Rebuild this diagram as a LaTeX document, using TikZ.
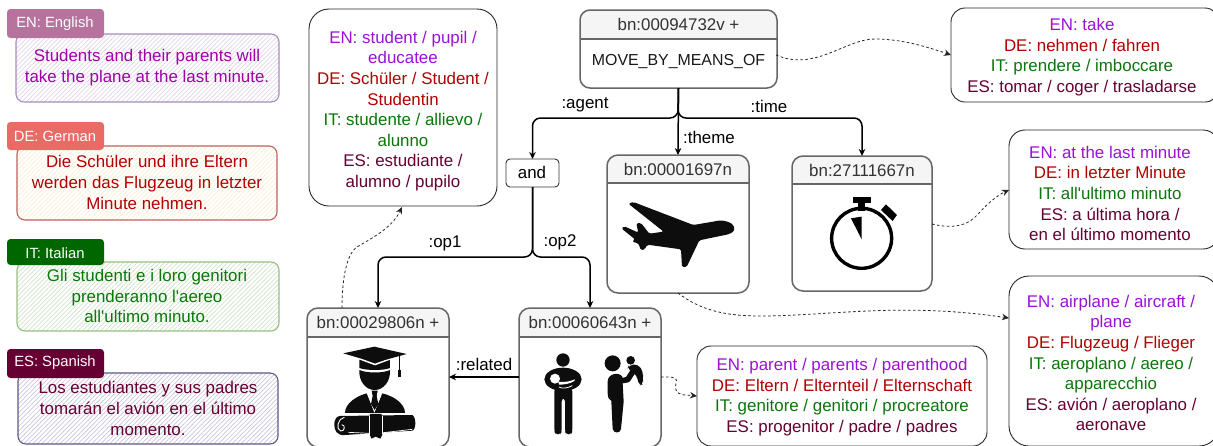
\documentclass[tikz,border=0pt]{standalone}
\usepackage{fontspec}
\setmainfont{Liberation Sans}[Ligatures=TeXOff]
\usetikzlibrary{arrows.meta,patterns.meta}
\definecolor{cen}{HTML}{9A12D6}
\definecolor{cenS}{HTML}{A000A8}
\definecolor{cde}{HTML}{B20000}
\definecolor{cit}{HTML}{0A770A}
\definecolor{ces}{HTML}{660033}
\definecolor{hdr}{HTML}{F5F5F5}
\definecolor{edge}{HTML}{666666}
\definecolor{lab}{HTML}{333333}
\definecolor{tagen}{HTML}{B5739D}
\definecolor{tagde}{HTML}{EA6B66}
\definecolor{tagit}{HTML}{006600}
\definecolor{tages}{HTML}{660033}
\definecolor{bden}{HTML}{A98BBB}
\definecolor{bdde}{HTML}{C4605C}
\definecolor{bdit}{HTML}{97C080}
\definecolor{bdes}{HTML}{5F5A88}
\definecolor{haen}{HTML}{E0D6EA}
\definecolor{hade}{HTML}{FCEFD6}
\definecolor{hait}{HTML}{CFE5C8}
\definecolor{haes}{HTML}{C9C6DC}
\newcommand{\EN}[1]{\textcolor{cen}{#1}}
\newcommand{\DE}[1]{\textcolor{cde}{#1}}
\newcommand{\IT}[1]{\textcolor{cit}{#1}}
\newcommand{\ES}[1]{\textcolor{ces}{#1}}
\tikzset{
  txt/.style={inner sep=0pt,outer sep=0pt,align=center,font=\fontsize{16.9}{20.6}\selectfont},
  sized/.style={inner sep=0pt,outer sep=0pt,rectangle},
  sensebox/.style={sized,draw=black!85,line width=.9pt},
  concept/.style={sized,draw=edge,line width=1.5pt},
  tag/.style={sized,rounded corners=3.5pt},
  tagtxt/.style={inner sep=0pt,outer sep=0pt,text=white,font=\fontsize{14.8}{17}\selectfont},
  sent/.style={sized,rounded corners=8pt,line width=1.1pt,pattern={Lines[angle=45,distance=3.2pt,line width=.7pt]}},
  edgeline/.style={line width=1.5pt,draw=black,-{Stealth[length=7pt,width=6.5pt]}},
  dashline/.style={line width=.8pt,draw=black!85,dash pattern=on 2.6pt off 2.4pt,-{Stealth[length=7pt,width=6.5pt]}},
  ico/.style={fill=black!95,draw=none},
}
% name x1 y1 x2 y2 options
\newcommand{\boxat}[6]{\node[#6,minimum width={(#4)-(#2)},minimum height={(#5)-(#3)}] (#1) at ({((#2)+(#4))/2},{((#3)+(#5))/2}) {};}
% name x1 y1 x2 y2 yh radius text
\newcommand{\conceptbox}[8]{%
  \fill[hdr] (#2,#6) [rounded corners=#7pt] -- (#2,#3) -- (#4,#3) [sharp corners] -- (#4,#6) -- cycle;
  \boxat{#1}{#2}{#3}{#4}{#5}{concept,rounded corners=#7pt}
  \draw[edge,line width=1.5pt] (#2,#6) -- (#4,#6);
  \node[txt,text=lab] (#1h) at ({((#2)+(#4))/2},{((#3)+(#6))/2}) {#8};}
\begin{document}
\begin{tikzpicture}[x=1pt,y=-1pt]
\useasboundingbox (0,0) rectangle (1213,445);
\clip (0,0) rectangle (1213,445);
\fill[white] (0,0) rectangle (1213,445);

% sentences
\boxat{sen}{16}{34}{279}{102}{sent,draw=bden,pattern color=haen}
\node[txt,text=cenS] (senT) at (147,67.5) {Students and their parents will\\take the plane at the last minute.};
\boxat{ten}{7}{9}{104}{38}{tag,fill=tagen}
\node[tagtxt] (tenT) at (55,24) {EN: English};

\boxat{sde}{17}{146}{277}{220}{sent,draw=bdde,pattern color=hade}
\node[txt,text=cde] (sdeT) at (147,182.5) {Die Schüler und ihre Eltern\\werden das Flugzeug in letzter\\Minute nehmen.};
\boxat{tde}{7}{122}{104}{150}{tag,fill=tagde}
\node[tagtxt] (tdeT) at (55,136) {DE: German};

\boxat{sit}{17}{262}{279}{331}{sent,draw=bdit,pattern color=hait}
\node[txt,text=cit] (sitT) at (147,296) {Gli studenti e i loro genitori\\prenderanno l'aereo\\all'ultimo minuto.};
\boxat{tit}{7}{239}{104}{265}{tag,fill=tagit}
\node[tagtxt] (titT) at (55,253) {IT: Italian};

\boxat{ses}{18}{373}{278}{444}{sent,draw=bdes,pattern color=haes}
\node[txt,text=ces] (sesT) at (148,408.5) {Los estudiantes y sus padres\\tomarán el avión en el último\\momento.};
\boxat{tes}{7}{349}{104}{378}{tag,fill=tages}
\node[tagtxt] (tesT) at (55,363) {ES: Spanish};

% sense boxes
\boxat{bstu}{309}{9}{497}{206}{sensebox,rounded corners=20pt}
\node[txt] (bstuT) at (403,111) {\EN{EN: student / pupil /}\\\EN{educatee}\\\DE{DE: Schüler / Student /}\\\DE{Studentin}\\\IT{IT: studente / allievo /}\\\IT{alunno}\\\ES{ES: estudiante /}\\\ES{alumno / pupilo}};
\boxat{btake}{951}{8}{1219}{102}{sensebox,rounded corners=14pt}
\node[txt] (btakeT) at (1082,57) {\EN{EN: take}\\\DE{DE: nehmen / fahren}\\\IT{IT: prendere / imboccare}\\\ES{ES: tomar / coger / trasladarse}};
\boxat{btime}{1009}{130}{1219}{249}{sensebox,rounded corners=16pt}
\node[txt] (btimeT) at (1110,193.5) {\EN{EN: at the last minute}\\\DE{DE: in letzter Minute}\\\IT{IT: all'ultimo minuto}\\\ES{ES: a última hora /}\\\ES{en el último momento}};
\boxat{bplane}{1009}{276}{1219}{446}{sensebox,rounded corners=20pt}
\node[txt] (bplaneT) at (1111,363) {\EN{EN: airplane / aircraft /}\\\EN{plane}\\\DE{DE: Flugzeug / Flieger}\\\IT{IT: aeroplano / aereo /}\\\IT{apparecchio}\\\ES{ES: avión / aeroplano /}\\\ES{aeronave}};
\boxat{bpar}{697}{346}{987}{446}{sensebox,rounded corners=14pt}
\node[txt] (bparT) at (842,397) {\EN{EN: parent / parents / parenthood}\\\DE{DE: Eltern / Elternteil / Elternschaft}\\\IT{IT: genitore / genitori / procreatore}\\\ES{ES: progenitor / padre / padres}};

% concept boxes
\conceptbox{top}{580}{10}{777}{88}{39}{10}{bn:00094732v +}
\node[txt,text=black!90,font=\fontsize{15.9}{20}\selectfont] (topT) at (678.5,62) {MOVE\_BY\_MEANS\_OF};
\boxat{and}{506}{159}{559}{187}{sized,draw=black!80,line width=.9pt,rounded corners=4pt}
\node[txt] (andT) at (532,172.5) {and};
\conceptbox{plane}{607}{155}{749}{293}{183}{11}{bn:00001697n}
\conceptbox{clock}{792}{156}{932}{291}{184}{11}{bn:27111667n}
\conceptbox{grad}{307}{308}{449}{447}{337}{11}{bn:00029806n +}
\conceptbox{par}{519}{308}{661}{447}{337}{11}{bn:00060643n +}

% solid connectors
\coordinate (j1) at (678,118);
\coordinate (j2) at (532.5,257);
\coordinate (parin) at (590,308);
\draw[edgeline] (top.south) -- (plane.north);
\draw[edgeline,rounded corners=8pt] (top.south) -- (j1) -| (and.north);
\draw[edgeline,rounded corners=8pt] (top.south) -- (j1) -| (clock.north);
\draw[edgeline,rounded corners=8pt] (and.south) -- (j2) -| (grad.north);
\draw[edgeline,rounded corners=8pt] (and.south) -- (j2) -| (parin);
\draw[edgeline] (par.west |- 0,377) -- (grad.east |- 0,377);

% labels
\node[txt] (lagent) at (585,105) {:agent};
\node[txt] (ltheme) at (709,137) {:theme};
\node[txt] (ltime) at (769,106) {:time};
\node[txt] (lop1) at (445,243) {:op1};
\node[txt] (lop2) at (560,242) {:op2};
\node[txt] (lrel) at (484,364) {:related};

% dashed connectors
\coordinate (d1) at (776,55);
\coordinate (d1e) at (btake.west |- 0,55);
\draw[dashline] (d1) .. controls (815,72) and (845,39) .. (875,39) .. controls (900,39) and (925,46) .. (d1e);
\coordinate (d2) at (932,224);
\coordinate (d2e) at (btime.west |- 0,190);
\draw[dashline] (d2) .. controls (965,232) and (975,217) .. (980,212) .. controls (988,203) and (998,195) .. (d2e);
\coordinate (d3) at (678,293);
\coordinate (d3e) at (bplane.west |- 0,318);
\draw[dashline] (d3) .. controls (700,310) and (725,316) .. (760,316) .. controls (830,316) and (900,302) .. (d3e);
\coordinate (d4) at (661,377);
\coordinate (d4e) at (bpar.west |- 0,396);
\draw[dashline] (d4) .. controls (685,376) and (673,382) .. (676,390) .. controls (678,396) and (688,395) .. (d4e);
\coordinate (d5) at (342,308);
\coordinate (d5e) at (402,207);
\draw[dashline] (d5) .. controls (342,285) and (345,255) .. (357,247) .. controls (372,238) and (392,228) .. (d5e);

% plane icon
\begin{scope}[shift={(615,190)},x=.3333pt,y=-.3333pt]
\fill[ico,rounded corners=1.5pt] (40,41) -- (55,36) -- (235,105) -- (300,94) .. controls (325,88) and (355,98) .. (358,115) .. controls (356,128) and (340,133) .. (330,135) -- (253,151) -- (215,231) -- (201,231) -- (198,178) -- (97,164) -- (89,178) -- (78,181) -- (70,160) -- (51,155) -- (60,148) -- (19,115) -- (28,109) -- (70,128) -- (64,100) -- (78,99) -- (103,131) -- (146,125) -- cycle;
\end{scope}

% clock icon
\begin{scope}[shift={(500,0)},x=.3333pt,y=-.3333pt]
\draw[black,line width=3.4pt] (1085,715) circle[radius=90];
\fill[black] (1058,592) rectangle (1112,610);
\fill[black] (1075,610) rectangle (1095,632);
\fill[black] (1158,613) -- (1191,645) -- (1178,663) -- (1143,630) -- cycle;
\fill[black] (1053,655) -- (1085,650) -- (1085,718) -- cycle;
\end{scope}

% graduate icon
\begin{scope}[shift={(325,340)},x=.3333pt,y=-.3333pt]
\fill[ico] (103,58) -- (195,58) -- (195,84) .. controls (175,92) and (125,92) .. (103,84) -- cycle;
\fill[ico] (103,90) .. controls (125,100) and (175,100) .. (195,90) .. controls (197,125) and (175,150) .. (149,150) .. controls (123,150) and (101,125) .. (103,90) -- cycle;
\fill[white] (96,51) -- (150,71) -- (204,51) -- (204,56) -- (150,76) -- (96,56) -- cycle;
\fill[ico] (55,40) -- (148,20) -- (245,42) -- (150,68) -- cycle;
\draw[black!95,line width=.7pt] (222,46) -- (222,92);
\fill[ico] (218,90) rectangle (228,110);
\fill[ico] (60,219) .. controls (60,190) and (95,168) .. (125,160) -- (147,213) -- (150,213) -- (172,160) .. controls (205,168) and (240,190) .. (240,219) -- cycle;
\fill[white] (125,156) -- (148,218) -- (172,156) -- (165,156) -- (149,200) -- (132,156) -- cycle;
\fill[ico] (140,152) -- (158,152) -- (155,168) -- (160,192) -- (149,210) -- (138,192) -- (143,168) -- cycle;
\fill[ico] (45,228) -- (262,225) .. controls (274,232) and (274,268) .. (262,272) -- (60,285) .. controls (36,288) and (26,270) .. (28,250) .. controls (29,238) and (35,228) .. (45,228) -- cycle;
\fill[ico] (135,222) -- (170,222) -- (172,284) -- (166,296) -- (152,290) -- (140,296) -- (135,286) -- cycle;
\draw[white,line width=.8pt] (134,228) -- (134,284) (172,228) -- (172,282);
\draw[white,line width=.9pt] (58,232) .. controls (38,235) and (32,268) .. (47,273) .. controls (60,275) and (62,254) .. (50,254);
\draw[white,line width=.7pt] (70,277) -- (132,280) (175,278) -- (262,268);
\end{scope}

% parents icon
\begin{scope}[shift={(535,345)},x=.3333pt,y=-.3333pt]
\fill[ico] (84,45) circle[radius=20];
\fill[ico] (84,103) ellipse[x radius=56,y radius=35];
\fill[ico,rounded corners=3pt] (58,130) -- (112,130) -- (112,260) -- (108,268) -- (94,268) -- (90,260) -- (90,160) -- (80,160) -- (80,260) -- (76,268) -- (62,268) -- (58,260) -- cycle;
\fill[white] (60,101) circle[radius=15];
\fill[white] (70,110) .. controls (90,113) and (105,109) .. (120,103) -- (118,108) .. controls (105,116) and (88,119) .. (72,119) -- cycle;
\draw[white,line width=.8pt] (72,126) .. controls (80,132) and (100,129) .. (112,122);
\fill[ico] (233,55) circle[radius=24];
\fill[ico] (218,110) .. controls (218,85) and (252,80) .. (262,95) -- (266,170) -- (258,252) .. controls (256,266) and (236,266) .. (233,252) -- (229,168) .. controls (220,165) and (218,155) .. (218,145) -- cycle;
\draw[black!95,line width=5.6pt,line cap=round,line join=round] (255,108) -- (278,104) -- (296,76);
\fill[ico] (287,46) circle[radius=13];
\fill[ico,rounded corners=4pt] (277,72) -- (282,60) -- (310,58) -- (325,82) -- (323,100) -- (325,118) -- (312,122) -- (305,90) -- cycle;
\end{scope}
\end{tikzpicture}
\end{document}
